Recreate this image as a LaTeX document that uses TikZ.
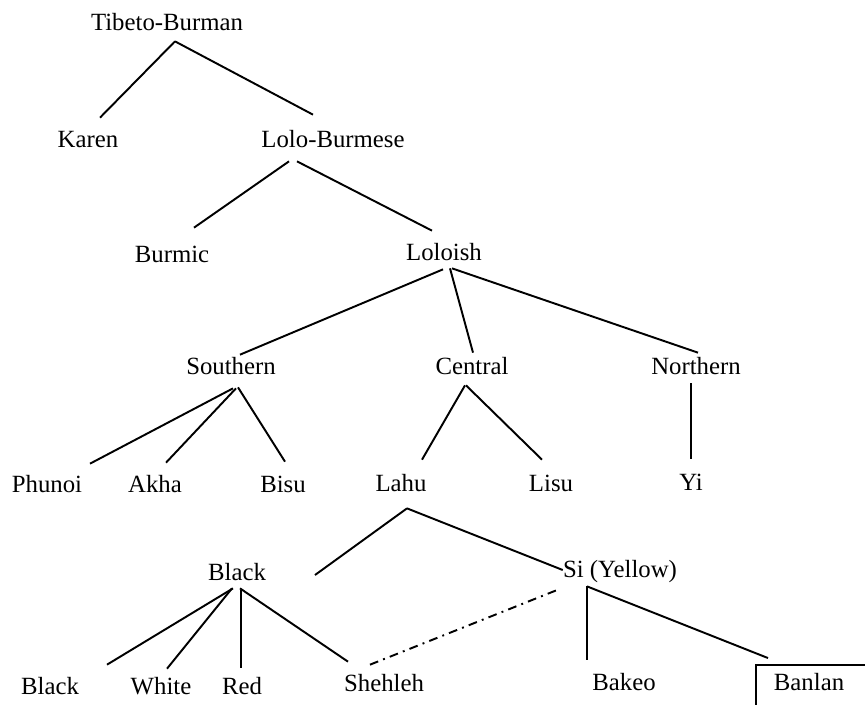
\documentclass[tikz,border=0pt]{standalone}
\usepackage{fontspec}
\setmainfont{Liberation Serif}
\usepackage{tikz}
\usetikzlibrary{calc}
\tikzset{
  lang/.style={font=\fontsize{14.1}{17}\selectfont, anchor=base,
    inner xsep=0pt, inner ysep=0.1cm, text height=0.48cm, text depth=0.12cm},
  boxlang/.style={lang, draw, line width=1.1pt, anchor=base west,
    inner xsep=0.36cm, inner ysep=0.06cm, text height=0.44cm, text depth=0.4cm,
    text width=2.4cm, align=left},
  branch/.style={line width=1.1pt, color=black},
  loanlink/.style={line width=1.1pt, dash pattern=on 5pt off 3pt on 1.1pt off 3pt}
}

\begin{document}
\begin{tikzpicture}[x={(0.02cm,0)}, y={(0,-0.02cm)}]
  \useasboundingbox (0,0) rectangle (865,704);
  \clip (0,0) rectangle (865,704);

  % Upper levels
  \node[lang] (tb) at (167,30) {Tibeto-Burman};
  \node[lang] (karen) at (88,147) {Karen};
  \node[lang] (lolob) at (333,147) {Lolo-Burmese};
  \node[lang] (burmic) at (172,262) {Burmic};
  \node[lang] (loloish) at (444,260) {Loloish};

  % Loloish branches
  \node[lang] (southern) at (231,374) {Southern};
  \node[lang] (central) at (472,374) {Central};
  \node[lang] (northern) at (696,374) {Northern};

  \node[lang] (phunoi) at (47,492) {Phunoi};
  \node[lang] (akha) at (155,492) {Akha};
  \node[lang] (bisu) at (283,492) {Bisu};
  \node[lang] (lahu) at (401,491) {Lahu};
  \node[lang] (lisu) at (551,491) {Lisu};
  \node[lang] (yi) at (691,490) {Yi};

  % Lahu dialects
  \node[lang] (blackA) at (237,580) {Black};
  \node[lang] (si) at (620,577) {Si (Yellow)};

  \node[lang] (blackB) at (50,694) {Black};
  \node[lang] (white) at (161,694) {White};
  \node[lang] (red) at (242,694) {Red};
  \node[lang] (shehleh) at (384,691) {Shehleh};
  \node[lang] (bakeo) at (624,690) {Bakeo};
  \node[boxlang] (banlan) at (755,690) {Banlan};

  % Connections
  \draw[branch] ($(tb.south)+(8,0)$) -- ($(karen.north)+(12,0)$);
  \draw[branch] ($(tb.south)+(8,0)$) -- ($(lolob.north)+(-20,-3)$);

  \draw[branch] ($(lolob.south)+(-44,3)$) -- ($(burmic.north)+(22,-5)$);
  \draw[branch] ($(lolob.south)+(-36,3)$) -- ($(loloish.north)+(-12,0)$);

  \draw[branch] ($(loloish.south)+(-1,-2)$) -- ($(southern.north)+(9,10)$);
  \draw[branch] ($(loloish.south)+(6,-3)$) -- ($(central.north)+(1,8)$);
  \draw[branch] ($(loloish.south)+(8,-3)$) -- ($(northern.north)+(2,8)$);

  \draw[branch] ($(southern.south)+(2,3)$) -- ($(phunoi.north)+(43,1)$);
  \draw[branch] ($(southern.south)+(5,3)$) -- ($(akha.north)+(11,0)$);
  \draw[branch] ($(southern.south)+(7,2)$) -- ($(bisu.north)+(2,-1)$);

  \draw[branch] ($(central.south)+(-7,0)$) -- ($(lahu.north)+(21,-2)$);
  \draw[branch] ($(central.south)+(-6,0)$) -- ($(lisu.north)+(-9,-2)$);
  \draw[branch] ($(northern.south)+(-5,-2)$) -- ($(yi.north)+(0,-2)$);

  \draw[branch] ($(lahu.south)+(6,6)$) -- ($(blackA.base)+(78,-5)$);
  \draw[branch] ($(lahu.south)+(6,6)$) -- ($(si.west)+(0,2)$);

  \draw[branch] ($(blackA.south)+(-4,-3)$) -- ($(blackB.north)+(57,0)$);
  \draw[branch] ($(blackA.south)+(-5,-3)$) -- ($(white.north)+(6,4)$);
  \draw[branch] ($(blackA.south)+(4,-1)$) -- ($(red.north)+(-1,3)$);
  \draw[branch] ($(blackA.south)+(3,-3)$) -- ($(shehleh.north)+(-36,0)$);

  \draw[branch] ($(si.south)+(-33,-2)$) -- ($(bakeo.north)+(-37,-1)$);
  \draw[branch] ($(si.south)+(-33,-2)$) -- ($(banlan.north west)+(13,-6)$);

  \draw[loanlink] ($(shehleh.north)+(-14,3)$) -- ($(si.south west)+(-4,1)$);
\end{tikzpicture}
\end{document}
